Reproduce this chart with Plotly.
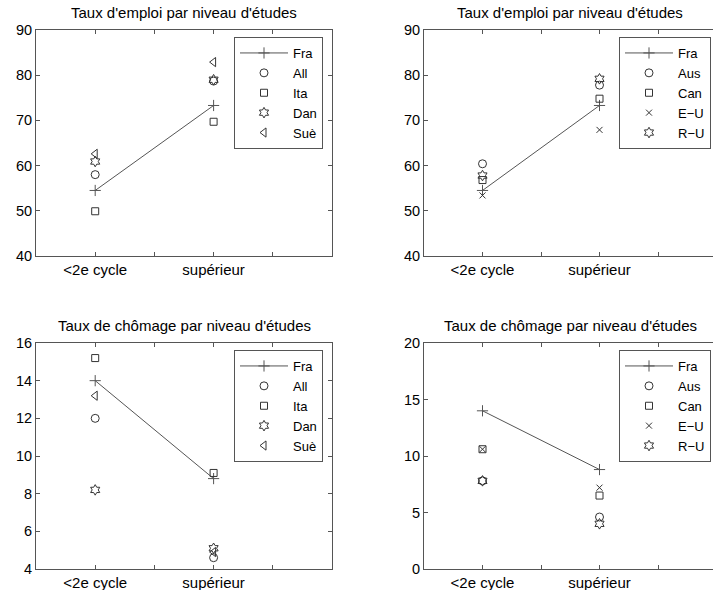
import plotly.graph_objects as go

categories = ['<2e cycle', 'supérieur']
cat_pos = [1, 2]

# Taux d'emploi (top row)
fra_emp = [54.5, 73.3]
all_emp = [58.0, 78.7]
ita_emp = [49.9, 69.7]
dan_emp = [60.9, 79.0]
sue_emp = [62.6, 82.9]
aus_emp = [60.4, 77.8]
can_emp = [56.8, 74.8]
eu_emp = [53.4, 67.9]
ru_emp = [57.8, 79.2]

# Taux de chômage (bottom row)
fra_cho = [14.0, 8.8]
all_cho = [12.0, 4.6]
ita_cho = [15.2, 9.1]
dan_cho = [8.2, 5.1]
sue_cho = [13.2, 4.9]
aus_cho = [7.8, 4.6]
can_cho = [10.6, 6.5]
eu_cho = [10.6, 7.2]
ru_cho = [7.8, 4.0]

W, H = 713, 590
FONT = 'Liberation Sans, Arial, sans-serif'
LINE = '#555555'
MK = '#333333'

def px_x(a, b):
    return [max(0, a / W), min(1, b / W)]

def px_y(top, bottom):
    return [(H - bottom) / H, (H - top) / H]

panels = [
    ('x', 'y', (36, 332), (30, 256), [40, 90], [40, 50, 60, 70, 80, 90], [0.5, 3.0], True),
    ('x2', 'y2', (424, 713), (30, 256), [40, 90], [40, 50, 60, 70, 80, 90], [0.5, 2.97], False),
    ('x3', 'y3', (36, 332), (343, 569), [4, 16], [4, 6, 8, 10, 12, 14, 16], [0.5, 3.0], True),
    ('x4', 'y4', (424, 713), (343, 569), [0, 20], [0, 5, 10, 15, 20], [0.5, 2.97], False),
]

titles = [
    "Taux d'emploi par niveau d'études",
    "Taux d'emploi par niveau d'études",
    "Taux de chômage par niveau d'études",
    "Taux de chômage par niveau d'études",
]

series = [
    [('Fra', fra_emp), ('All', all_emp), ('Ita', ita_emp), ('Dan', dan_emp), ('Suè', sue_emp)],
    [('Fra', fra_emp), ('Aus', aus_emp), ('Can', can_emp), ('E\u2212U', eu_emp), ('R\u2212U', ru_emp)],
    [('Fra', fra_cho), ('All', all_cho), ('Ita', ita_cho), ('Dan', dan_cho), ('Suè', sue_cho)],
    [('Fra', fra_cho), ('Aus', aus_cho), ('Can', can_cho), ('E\u2212U', eu_cho), ('R\u2212U', ru_cho)],
]

symbols = {
    'All': ('circle-open', 8), 'Aus': ('circle-open', 8),
    'Ita': ('square-open', 7), 'Can': ('square-open', 7),
    'Dan': ('hexagram-open', 8), 'R\u2212U': ('hexagram-open', 8),
    'Suè': ('triangle-left-open', 8), 'E\u2212U': ('x-thin-open', 6),
}

legend_names = ['legend', 'legend2', 'legend3', 'legend4']
legend_pos = [(323, 37), (711, 37), (323, 350), (711, 350)]

fig = go.Figure()
layout = dict(
    width=W, height=H,
    margin=dict(l=0, r=0, t=0, b=0),
    paper_bgcolor='white', plot_bgcolor='white',
    font=dict(family=FONT, size=14, color='black'),
    annotations=[],
)

for i, (xa, ya, xd, yd, yr, yt, xr, rb) in enumerate(panels):
    for j, (name, vals) in enumerate(series[i]):
        if name == 'Fra':
            fig.add_trace(go.Scatter(
                x=cat_pos, y=vals, name=name, mode='lines+markers',
                line=dict(color=LINE, width=1),
                marker=dict(symbol='cross-thin-open', size=8,
                            line=dict(color=MK, width=1)),
                xaxis=xa, yaxis=ya, legend=legend_names[i]))
        else:
            sym, sz = symbols[name]
            fig.add_trace(go.Scatter(
                x=cat_pos, y=vals, name=name, mode='markers',
                marker=dict(symbol=sym, size=sz, color=MK,
                            line=dict(color=MK, width=1)),
                xaxis=xa, yaxis=ya, legend=legend_names[i]))
    xkey = 'xaxis' + xa[1:]
    ykey = 'yaxis' + ya[1:]
    layout[xkey] = dict(
        domain=px_x(*xd), range=xr, anchor=ya,
        tickvals=[0.5, 1, 1.5, 2, 2.5, 3],
        ticktext=['', categories[0], '', categories[1], '', ''],
        ticks='inside', ticklen=4, tickcolor=LINE,
        showline=True, linecolor=LINE, linewidth=1, mirror='ticks',
        showgrid=False, zeroline=False, automargin=False,
        tickfont=dict(family=FONT, size=15, color='black'),
    )
    layout[ykey] = dict(
        domain=px_y(*yd), range=yr, anchor=xa,
        tickvals=yt,
        ticks='inside', ticklen=4, tickcolor=LINE,
        showline=True, linecolor=LINE, linewidth=1,
        mirror='ticks' if rb else False,
        showgrid=False, zeroline=False, automargin=False,
        tickfont=dict(family=FONT, size=14.5, color='black'),
    )
    cx = (xd[0] + (716 if not rb else xd[1])) / 2
    layout['annotations'].append(dict(
        text=titles[i], x=cx / W, y=(H - (yd[0] - 17)) / H,
        xref='paper', yref='paper', xanchor='center', yanchor='middle',
        showarrow=False, font=dict(family=FONT, size=15, color='black')))
    lx, ly = legend_pos[i]
    layout[legend_names[i]] = dict(
        x=lx / W, y=(H - ly) / H, xanchor='right', yanchor='top',
        xref='paper', yref='paper',
        bgcolor='white', bordercolor=LINE, borderwidth=1,
        font=dict(family=FONT, size=13, color='black'),
        tracegroupgap=0, itemwidth=48,
    )

layout['showlegend'] = True
fig.update_layout(**layout)
fig.write_html('out.html',
               config={'displayModeBar': False},
               post_script="document.body.style.margin='0';")
